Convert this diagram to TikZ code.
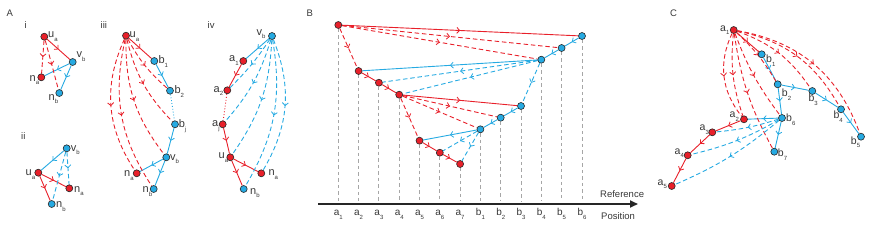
\documentclass[tikz,border=0pt]{standalone}
\usepackage{fontspec}
\setmainfont{Liberation Sans}
\usetikzlibrary{arrows.meta,decorations.markings,calc}
\definecolor{rd}{RGB}{232,32,42}
\definecolor{bl}{RGB}{38,170,226}
\definecolor{txt}{RGB}{55,55,55}
\newcommand\lb[2]{#1\raisebox{-3.8pt}{\fontsize{6}{6}\selectfont #2}}
\pgfdeclarelayer{bg}
\pgfsetlayers{bg,main}
\tikzset{
  every node/.style={text=txt},
  lab/.style={inner sep=0pt, anchor=base west, font=\fontsize{11}{12}\selectfont},
  labc/.style={inner sep=0pt, anchor=base west, font=\fontsize{10.5}{12}\selectfont},
  labx/.style={inner sep=0pt, anchor=base, font=\fontsize{10}{11}\selectfont},
  rn/.style={circle, draw=black!85, fill=rd, line width=0.6pt, minimum size=7pt, inner sep=0pt},
  bn/.style={circle, draw=black!85, fill=bl, line width=0.6pt, minimum size=7pt, inner sep=0pt},
  marr/.style={postaction={decorate}, decoration={markings, mark=at position #1 with {\arrow{Straight Barb[length=2.8pt,width=6pt,line width=0.8pt]}}}},
  marr/.default=0.5,
  rs/.style={draw=rd, line width=0.9pt, marr=#1},
  rs/.default=0.5,
  bs/.style={draw=bl, line width=0.9pt, marr=#1},
  bs/.default=0.5,
  rdash/.style={draw=rd, line width=0.9pt, dash pattern=on 4.5pt off 2.8pt, marr=#1},
  rdash/.default=0.5,
  bdash/.style={draw=bl, line width=0.9pt, dash pattern=on 4.5pt off 2.8pt, marr=#1},
  bdash/.default=0.5,
  vdash/.style={draw=black!35, line width=0.9pt, dash pattern=on 3.5pt off 3pt},
  plab/.style={font=\fontsize{9.5}{10}\selectfont, inner sep=0pt, anchor=base west},
}
\begin{document}
\begin{tikzpicture}[x=1pt,y=-1pt]
\useasboundingbox (0,0) rectangle (872,249);
% ---------- panel labels ----------
\node[plab] (PA) at (6.5,16.8) {A};
\node[plab] (PB) at (306.5,16.8) {B};
\node[plab] (PC) at (670,16.8) {C};
\node[plab] (Pi) at (24.5,28) {i};
\node[plab] (Pii) at (21,139) {ii};
\node[plab] (Piii) at (100.5,28) {iii};
\node[plab] (Piv) at (207.5,28) {iv};
% ---------- A i ----------
\node[rn] (Aiu) at (44.3,36.7) {};
\node[bn] (Aiv) at (72.7,62) {};
\node[rn] (Aina) at (41.3,77.3) {};
\node[bn] (Ainb) at (59.3,93) {};
\node[lab] (tAiu) at (48,37.3) {\lb{u}{a}};
\node[lab] (tAiv) at (76.5,57.3) {\lb{v}{b}};
\node[lab] (tAina) at (29.5,81) {\lb{n}{a}};
\node[lab] (tAinb) at (48.5,100) {\lb{n}{b}};
% ---------- A ii ----------
\node[bn] (Aiiv) at (66.7,148.3) {};
\node[rn] (Aiiu) at (38.3,172.7) {};
\node[rn] (Aiina) at (69.3,188.3) {};
\node[bn] (Aiinb) at (51.7,204) {};
\node[lab] (tAiiv) at (70.7,151) {\lb{v}{b}};
\node[lab] (tAiiu) at (25.5,175.5) {\lb{u}{a}};
\node[lab] (tAiina) at (74,192) {\lb{n}{a}};
\node[lab] (tAiinb) at (56,207.5) {\lb{n}{b}};
% ---------- A iii ----------
\node[rn] (Aiiiu) at (126,35.7) {};
\node[bn] (Aiiib1) at (154.3,61) {};
\node[bn] (Aiiib2) at (170,90.7) {};
\node[bn] (Aiiibj) at (175,124.3) {};
\node[bn] (Aiiiv) at (166.3,157.3) {};
\node[rn] (Aiiina) at (136.7,173.3) {};
\node[bn] (Aiiinb) at (153.7,189) {};
\node[lab] (tAiiiu) at (129.5,37.3) {\lb{u}{a}};
\node[lab] (tAiiib1) at (158.3,63.5) {\lb{b}{1}};
\node[lab] (tAiiib2) at (174.3,93.5) {\lb{b}{2}};
\node[lab] (tAiiibj) at (178.6,127.3) {\lb{b}{j}};
\node[lab] (tAiiiv) at (170,160) {\lb{v}{b}};
\node[lab] (tAiiina) at (124,176.7) {\lb{n}{a}};
\node[lab] (tAiiinb) at (142.5,192.7) {\lb{n}{b}};
% ---------- A iv ----------
\node[bn] (Aivv) at (272,36) {};
\node[rn] (Aiva1) at (243.3,61) {};
\node[rn] (Aiva2) at (227.3,90.3) {};
\node[rn] (Aivaj) at (222.7,124.3) {};
\node[rn] (Aivu) at (230.3,157.3) {};
\node[rn] (Aivna) at (261.3,173.3) {};
\node[bn] (Aivnb) at (243.7,189) {};
\node[lab] (tAivv) at (256.5,35) {\lb{v}{b}};
\node[lab] (tAiva1) at (229,61.5) {\lb{a}{1}};
\node[lab] (tAiva2) at (213.5,92) {\lb{a}{2}};
\node[lab] (tAivaj) at (212,126.5) {\lb{a}{j}};
\node[lab] (tAivu) at (218.5,158.5) {\lb{u}{a}};
\node[lab] (tAivna) at (268.3,175.5) {\lb{n}{a}};
\node[lab] (tAivnb) at (250,194) {\lb{n}{b}};
% ---------- B nodes ----------
\node[rn] (Ba1) at (338.3,25) {};
\node[rn] (Ba2) at (358.6,71) {};
\node[rn] (Ba3) at (378.9,82.7) {};
\node[rn] (Ba4) at (399.2,94.7) {};
\node[rn] (Ba5) at (419.5,140.7) {};
\node[rn] (Ba6) at (439.8,152.7) {};
\node[rn] (Ba7) at (460.1,164) {};
\node[bn] (Bb1) at (480.4,129.3) {};
\node[bn] (Bb2) at (500.7,117.7) {};
\node[bn] (Bb3) at (521,106) {};
\node[bn] (Bb4) at (541.3,59.7) {};
\node[bn] (Bb5) at (561.6,48) {};
\node[bn] (Bb6) at (582,36) {};
\coordinate (vend) at (0,201);
\coordinate (axs) at (318,204);
\coordinate (axe) at (638,204);
\coordinate (labline) at (0,215.6);
\draw[line width=1.8pt, draw=black!85, -{Triangle[length=8pt,width=7pt]}] (axs) -- (axe);
\foreach \n/\t/\s in {Ba1/a/1,Ba2/a/2,Ba3/a/3,Ba4/a/4,Ba5/a/5,Ba6/a/6,Ba7/a/7,Bb1/b/1,Bb2/b/2,Bb3/b/3,Bb4/b/4,Bb5/b/5,Bb6/b/6}{
  \node[labx] (L\n) at (\n |- labline) {\lb{\t}{\s}};
}
\node[plab] (Lref) at (600,197.7) {Reference};
\node[plab] (Lpos) at (601,219.3) {Position};
% ---------- C nodes ----------
\node[rn] (Ca1) at (733.7,30) {};
\node[bn] (Cb1) at (761.7,54.3) {};
\node[bn] (Cb2) at (777.7,84.3) {};
\node[bn] (Cb3) at (812.3,91) {};
\node[bn] (Cb4) at (841,109.3) {};
\node[bn] (Cb5) at (861,136.7) {};
\node[bn] (Cb6) at (782,118) {};
\node[bn] (Cb7) at (774.3,151.7) {};
\node[rn] (Ca2) at (744,119.3) {};
\node[rn] (Ca3) at (712.3,132.3) {};
\node[rn] (Ca4) at (687.7,155.3) {};
\node[rn] (Ca5) at (671.7,186) {};
\node[labc] (tCa1) at (720,31) {\lb{a}{1}};
\node[labc] (tCb1) at (766,62.5) {\lb{b}{1}};
\node[labc] (tCb2) at (781.7,96.5) {\lb{b}{2}};
\node[labc] (tCb3) at (808.3,101.7) {\lb{b}{3}};
\node[labc] (tCb4) at (833.3,118.3) {\lb{b}{4}};
\node[labc] (tCb5) at (850.7,144) {\lb{b}{5}};
\node[labc] (tCb6) at (786,121.7) {\lb{b}{6}};
\node[labc] (tCb7) at (777.7,156.7) {\lb{b}{7}};
\node[labc] (tCa2) at (729.5,117.3) {\lb{a}{2}};
\node[labc] (tCa3) at (699.5,130.5) {\lb{a}{3}};
\node[labc] (tCa4) at (674.5,154) {\lb{a}{4}};
\node[labc] (tCa5) at (657.5,185) {\lb{a}{5}};
\begin{pgfonlayer}{bg}
% A i
\draw[rs] (Aiu) -- (Aiv);
\draw[bs] (Aiv) -- (Aina);
\draw[bs] (Aiv) -- (Ainb);
\draw[rdash] (Aiu) -- (Aina);
\draw[rdash] (Aiu) -- (Ainb);
% A ii
\draw[bs] (Aiiv) -- (Aiiu);
\draw[rs] (Aiiu) -- (Aiina);
\draw[rs] (Aiiu) -- (Aiinb);
\draw[bdash] (Aiiv) -- (Aiina);
\draw[bdash] (Aiiv) -- (Aiinb);
% A iii
\draw[rs] (Aiiiu) -- (Aiiib1);
\draw[bs] (Aiiib1) -- (Aiiib2);
\draw[draw=bl, line width=0.9pt, dotted] (Aiiib2) -- (Aiiibj);
\draw[bs] (Aiiibj) -- (Aiiiv);
\draw[bs] (Aiiiv) -- (Aiiina);
\draw[bs] (Aiiiv) -- (Aiiinb);
\draw[rdash] (Aiiiu) to[bend right=10] (Aiiib2);
\draw[rdash] (Aiiiu) to[bend right=15] (Aiiibj);
\draw[rdash] (Aiiiu) to[bend right=19] (Aiiiv);
\draw[rdash] (Aiiiu) to[bend right=23] (Aiiinb);
\draw[rdash] (Aiiiu) to[bend right=29] (Aiiina);
% A iv
\draw[bs] (Aivv) -- (Aiva1);
\draw[rs] (Aiva1) -- (Aiva2);
\draw[draw=rd, line width=0.9pt, dotted] (Aiva2) -- (Aivaj);
\draw[rs] (Aivaj) -- (Aivu);
\draw[rs] (Aivu) -- (Aivna);
\draw[rs] (Aivu) -- (Aivnb);
\draw[bdash] (Aivv) to[bend left=6] (Aiva2);
\draw[bdash] (Aivv) to[bend left=12] (Aivaj);
\draw[bdash] (Aivv) to[bend left=16] (Aivu);
\draw[bdash] (Aivv) to[bend left=20] (Aivnb);
\draw[bdash] (Aivv) to[bend left=26] (Aivna);
% B verticals
\foreach \n in {Ba1,Ba2,Ba3,Ba4,Ba5,Ba6,Ba7,Bb1,Bb2,Bb3,Bb4,Bb5,Bb6}{
  \draw[vdash] (\n) -- (\n |- vend);
}
% B edges
\draw[rs] (Ba1) -- (Bb6);
\draw[rdash] (Ba1) -- (Bb5);
\draw[rdash] (Ba1) -- (Bb4);
\draw[rdash] (Ba1) -- (Ba2);
\draw[rs] (Ba2) -- (Ba3);
\draw[rs] (Ba3) -- (Ba4);
\draw[bs] (Bb6) -- (Bb5);
\draw[bs] (Bb5) -- (Bb4);
\draw[bs] (Bb4) -- (Ba2);
\draw[bdash] (Bb4) -- (Ba3);
\draw[bdash] (Bb4) -- (Ba4);
\draw[bdash] (Bb4) -- (Bb3);
\draw[rs] (Ba4) -- (Bb3);
\draw[rdash] (Ba4) -- (Bb2);
\draw[rdash] (Ba4) -- (Bb1);
\draw[rdash] (Ba4) -- (Ba5);
\draw[rs] (Ba5) -- (Ba6);
\draw[rs] (Ba6) -- (Ba7);
\draw[bs] (Bb3) -- (Bb2);
\draw[bs] (Bb2) -- (Bb1);
\draw[bs] (Bb1) -- (Ba5);
\draw[bdash] (Bb1) -- (Ba6);
\draw[bdash] (Bb1) -- (Ba7);
% C edges
\draw[rs] (Ca1) -- (Cb1);
\draw[bs] (Cb1) -- (Cb2);
\draw[bs] (Cb2) -- (Cb3);
\draw[bs] (Cb3) -- (Cb4);
\draw[bs] (Cb4) -- (Cb5);
\draw[bs] (Cb2) -- (Cb6);
\draw[bs] (Cb6) -- (Cb7);
\draw[bs] (Cb6) -- (Ca2);
\draw[rs] (Ca2) -- (Ca3);
\draw[rs] (Ca3) -- (Ca4);
\draw[rs] (Ca4) -- (Ca5);
\draw[rdash] (Ca1) to[bend left=8] (Cb2);
\draw[rdash] (Ca1) to[bend left=18] (Cb3);
\draw[rdash] (Ca1) to[bend left=24] (Cb4);
\draw[rdash] (Ca1) to[bend left=30] (Cb5);
\draw[rdash] (Ca1) to[bend right=8] (Cb6);
\draw[rdash] (Ca1) to[bend right=10] (Cb7);
\draw[rdash] (Ca1) to[bend right=12] (Ca2);
\draw[rdash] (Ca1) to[bend right=32] (Ca2);
\draw[bdash] (Cb6) to[bend left=6] (Ca3);
\draw[bdash] (Cb6) to[bend left=8] (Ca4);
\draw[bdash] (Cb6) to[bend left=8] (Ca5);
\end{pgfonlayer}
\end{tikzpicture}
\end{document}
